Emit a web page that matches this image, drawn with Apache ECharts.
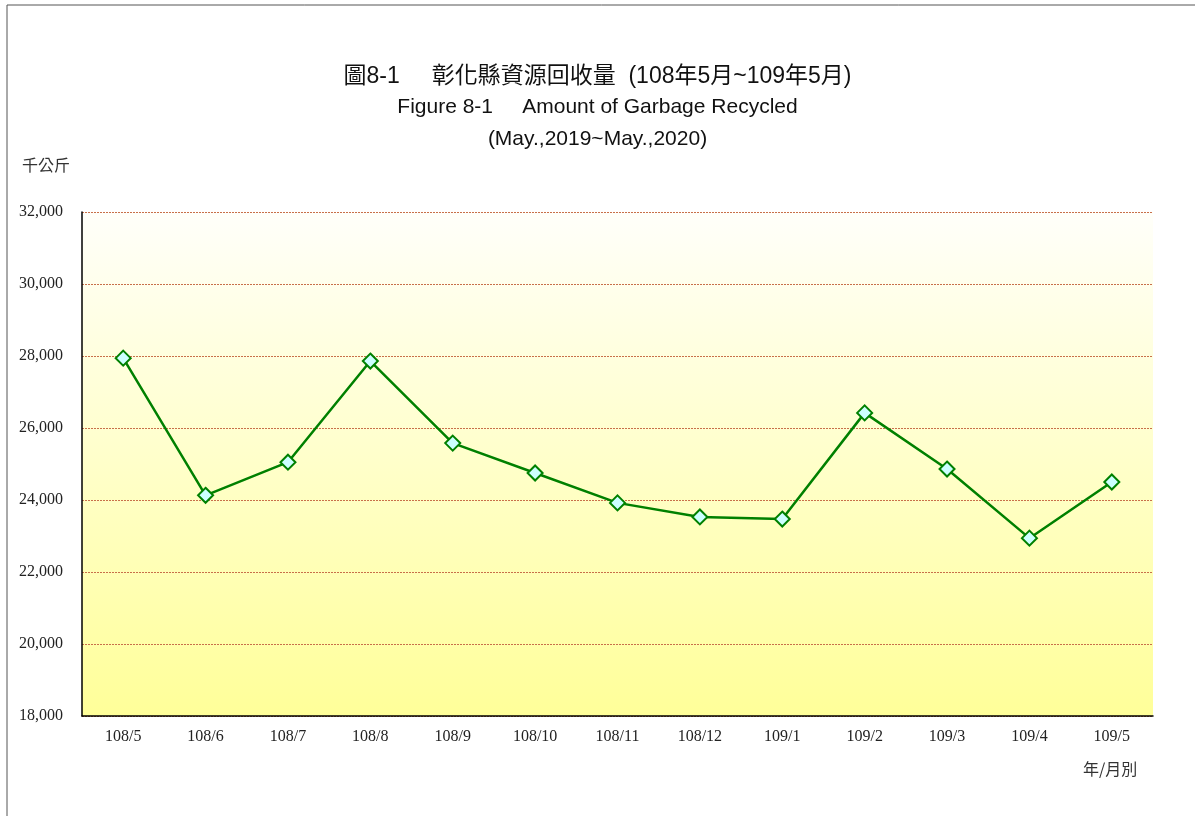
<!DOCTYPE html>
<html>
<head>
<meta charset="utf-8">
<script src="https://cdn.jsdelivr.net/npm/echarts@6/dist/echarts.min.js"></script>
<style>
  html, body { margin: 0; padding: 0; background: #fff; }
  #chart { width: 1195px; height: 816px; }
</style>
</head>
<body>
<div id="chart"></div>
<script>
// 年/月別 資源回收量 (千公斤)
const months = ["108/5", "108/6", "108/7", "108/8", "108/9", "108/10", "108/11",
                "108/12", "109/1", "109/2", "109/3", "109/4", "109/5"];
const recycled = [27940, 24130, 25050, 27860, 25580, 24750, 23920,
                  23530, 23470, 26420, 24860, 22940, 24500];
const yTicks = { min: 18000, max: 32000, interval: 2000 };

const serif = "'Liberation Serif', 'Noto Sans CJK TC', serif";
const sans = "'Liberation Sans', 'Noto Sans CJK TC', sans-serif";

const chart = echarts.init(document.getElementById("chart"));

const option = {
  animation: false,
  backgroundColor: "#fff",
  title: [
    { text: "圖8-1     彰化縣資源回收量  (108年5月~109年5月)", left: "center", top: 60,
      textStyle: { fontFamily: sans, fontSize: 23, fontWeight: "normal", color: "#111" } },
    { text: "Figure 8-1     Amount of Garbage Recycled", left: "center", top: 92,
      textStyle: { fontFamily: sans, fontSize: 21, fontWeight: "normal", color: "#111" } },
    { text: "(May.,2019~May.,2020)", left: "center", top: 124,
      textStyle: { fontFamily: sans, fontSize: 21, fontWeight: "normal", color: "#111" } }
  ],
  graphic: [
    { type: "rect", shape: { x: 7, y: 5, width: 1200, height: 820 }, silent: true,
      style: { fill: "none", stroke: "#555", lineWidth: 1 } },
    { type: "text", left: 22, top: 157,
      style: { text: "千公斤", font: "16px 'Noto Sans CJK TC'", fill: "#333" } },
    { type: "text", left: 1083, top: 761,
      style: { text: "年/月別", font: "16px 'Noto Sans CJK TC'", fill: "#333" } }
  ],
  grid: {
    left: 82, right: 42, top: 212, bottom: 100, show: true, borderWidth: 0,
    backgroundColor: new echarts.graphic.LinearGradient(0, 0, 0, 1, [
      { offset: 0, color: "#fffffa" },
      { offset: 1, color: "#ffff99" }
    ])
  },
  xAxis: {
    type: "category",
    data: months,
    boundaryGap: true,
    axisLine: { lineStyle: { color: "#000", width: 1.5 } },
    axisTick: { inside: true, length: 5, lineStyle: { color: "#000" } },
    axisLabel: { fontFamily: serif, fontSize: 16, color: "#222", margin: 13 }
  },
  yAxis: {
    type: "value",
    min: yTicks.min, max: yTicks.max, interval: yTicks.interval,
    axisLine: { show: true, lineStyle: { color: "#000", width: 1.5 } },
    axisTick: { show: false },
    axisLabel: {
      fontFamily: serif, fontSize: 16, color: "#222", margin: 19,
      formatter: v => v.toLocaleString("en-US")
    },
    splitLine: { lineStyle: { color: "#c8704a", type: [2, 1], width: 1 } }
  },
  series: [{
    type: "line",
    data: recycled,
    symbol: "diamond",
    symbolSize: 15,
    lineStyle: { color: "#008000", width: 2.5 },
    itemStyle: { color: "#ccffff", borderColor: "#008000", borderWidth: 2 }
  }]
};
chart.setOption(option);
</script>
</body>
</html>
